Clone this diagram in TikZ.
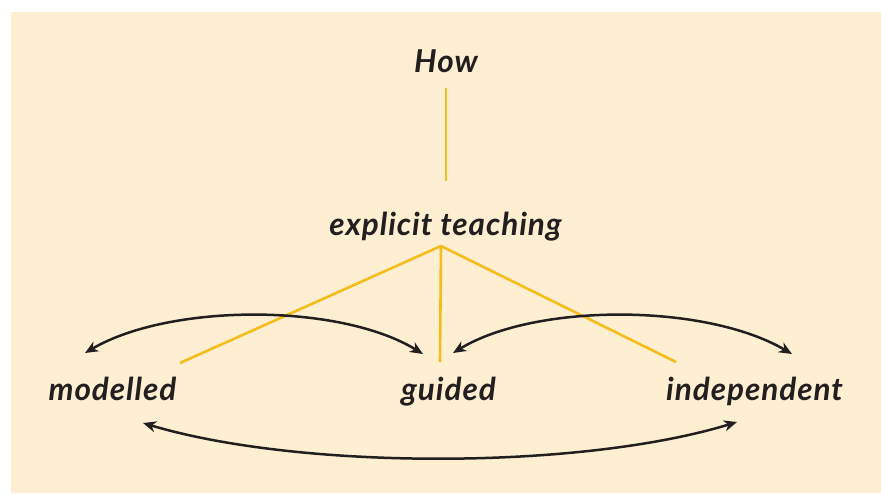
\documentclass[tikz,border=0pt]{standalone}
\usepackage{fontspec}
\setmainfont{Lato}[LetterSpace=3]
\usetikzlibrary{arrows.meta}
\definecolor{bgpeach}{HTML}{FEEFD2}
\definecolor{gold}{HTML}{F6BD1A}
\definecolor{ink}{HTML}{231F20}
\tikzset{
  lbl/.style={anchor=base, text=ink, font=\fontsize{31.5}{35}\selectfont\bfseries\itshape, inner sep=0pt},
  yline/.style={draw=gold, line width=2.6pt},
  arc/.style={draw=ink, line width=2.5pt, {Stealth[length=13pt,width=11pt,inset=4pt]}-{Stealth[length=13pt,width=11pt,inset=4pt]}}
}
\begin{document}
\begin{tikzpicture}[x=1pt,y=-1pt]
\useasboundingbox (0,0) rectangle (881,493);
\fill[bgpeach] (11,12) rectangle (881,493);
\node[lbl] (how) at (446,72) {How};
\node[lbl] (exp) at (445.5,235) {explicit teaching};
\node[lbl] (mod) at (112.5,400) {modelled};
\node[lbl] (gui) at (448.5,400) {guided};
\node[lbl] (ind) at (754.5,400) {independent};
\coordinate (howB) at (446,88);
\coordinate (expT) at (446,181);
\coordinate (apex) at (441,246);
\coordinate (modL) at (180,363);
\coordinate (guiL) at (440,362);
\coordinate (indL) at (676,362);
\coordinate (a1) at (85,353);
\coordinate (a2) at (423,354);
\coordinate (b1) at (453,353);
\coordinate (b2) at (792,354);
\coordinate (c1) at (143,423);
\coordinate (c2) at (737,422);
\draw[yline] (howB) -- (expT);
\draw[yline] (apex) -- (modL);
\draw[yline] (apex) -- (guiL);
\draw[yline] (apex) -- (indL);
\draw[arc] (a1) .. controls (170,303) and (340,303) .. (a2);
\draw[arc] (b1) .. controls (535,303) and (705,303) .. (b2);
\draw[arc] (c1) .. controls (300,470) and (580,470) .. (c2);
\end{tikzpicture}
\end{document}
